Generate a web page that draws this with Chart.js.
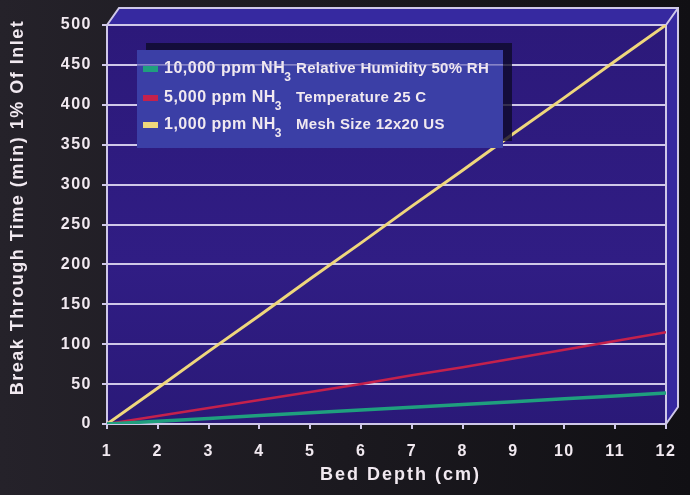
<!DOCTYPE html>
<html>
<head>
<meta charset="utf-8">
<script src="https://cdn.jsdelivr.net/npm/chart.js@4.4.0/dist/chart.umd.min.js"></script>
<style>
  html, body { margin: 0; padding: 0; background: #151318; }
  #wrap { width: 690px; height: 495px; }
</style>
</head>
<body>
<div id="wrap"><canvas id="myChart" width="690" height="495"></canvas></div>
<script>
// chart values
var bedDepth = [1, 2, 3, 4, 5, 6, 7, 8, 9, 10, 11, 12];
var nh3At10000 = [0, 3.5, 7, 10.5, 14, 17.5, 21, 24.5, 28, 31.5, 35, 39];
var nh3At5000 = [0, 10, 20, 30, 40, 50, 61, 71, 82, 93, 104, 115];
var nh3At1000 = [0, 45, 91, 136, 182, 227, 273, 318, 364, 409, 455, 500];
var seriesNames = ['10,000 ppm NH\u2083', '5,000 ppm NH\u2083', '1,000 ppm NH\u2083'];
var conditions = ['Relative Humidity 50% RH', 'Temperature 25 C', 'Mesh Size 12x20 US'];
var seriesColors = ['#1f9f7e', '#c4214c', '#efd77c'];
var xTitle = 'Bed Depth (cm)';
var yTitle = 'Break Through Time (min) 1% Of Inlet';
var yMin = 0, yMax = 500, yStep = 50;
var xMin = 1, xMax = 12;

var textColor = '#f1e9f0';
var lineColor = '#cfc8e8';
var fontFamily = '"Liberation Sans", Arial, sans-serif';

function toPoints(values) {
  return values.map(function (v, i) { return { x: bedDepth[i], y: v }; });
}

// 3D box, background and letter spacing
var boxPlugin = {
  id: 'box3d',
  beforeLayout: function (chart) { chart.ctx.letterSpacing = '1.5px'; },
  beforeDraw: function (chart) {
    var ctx = chart.ctx, ca = chart.chartArea;
    var dx = 12, dy = -17;
    ctx.save();
    var g = ctx.createLinearGradient(0, 0, chart.width, 0);
    g.addColorStop(0, '#25222a');
    g.addColorStop(1, '#111014');
    ctx.fillStyle = g;
    ctx.fillRect(0, 0, chart.width, chart.height);

    // top and right faces
    ctx.fillStyle = '#3629a0';
    ctx.beginPath();
    ctx.moveTo(ca.left, ca.top);
    ctx.lineTo(ca.left + dx, ca.top + dy);
    ctx.lineTo(ca.right + dx, ca.top + dy);
    ctx.lineTo(ca.right + dx, ca.bottom + dy);
    ctx.lineTo(ca.right, ca.bottom);
    ctx.lineTo(ca.right, ca.top);
    ctx.closePath();
    ctx.fill();

    // front face
    var fg = ctx.createLinearGradient(0, ca.top, 0, ca.bottom);
    fg.addColorStop(0, '#2c197a');
    fg.addColorStop(0.6, '#301d84');
    fg.addColorStop(1, '#2a1978');
    ctx.fillStyle = fg;
    ctx.fillRect(ca.left, ca.top, ca.right - ca.left, ca.bottom - ca.top);

    // edges
    ctx.strokeStyle = lineColor;
    ctx.lineWidth = 2;
    ctx.beginPath();
    ctx.moveTo(ca.left, ca.top);
    ctx.lineTo(ca.left + dx, ca.top + dy);
    ctx.lineTo(ca.right + dx, ca.top + dy);
    ctx.lineTo(ca.right + dx, ca.bottom + dy);
    ctx.lineTo(ca.right, ca.bottom);
    ctx.moveTo(ca.right, ca.top);
    ctx.lineTo(ca.right + dx, ca.top + dy);
    ctx.moveTo(ca.right, ca.top);
    ctx.lineTo(ca.right, ca.bottom);
    ctx.stroke();
    ctx.restore();
    ctx.letterSpacing = '1.5px';
  }
};

// legend box with two text columns, plus axis titles
var legendPlugin = {
  id: 'boxLegend',
  afterDraw: function (chart) {
    var ctx = chart.ctx;
    var bx = 137, by = 50, bw = 366, bh = 98;
    ctx.save();
    ctx.fillStyle = 'rgba(14, 10, 42, 0.8)';
    ctx.fillRect(bx + 9, by - 7, bw, bh);
    ctx.fillStyle = '#3b3fa6';
    ctx.fillRect(bx, by, bw, bh);

    var rowY = [69, 98, 125];
    ctx.textBaseline = 'middle';
    ctx.textAlign = 'left';
    seriesNames.forEach(function (name, i) {
      var y = rowY[i];
      ctx.fillStyle = seriesColors[i];
      ctx.fillRect(143, y - 3, 15, 6);

      ctx.fillStyle = textColor;
      ctx.letterSpacing = '0.5px';
      ctx.font = 'bold 16px ' + fontFamily;
      var base = name.replace('\u2083', '');
      ctx.fillText(base, 164, y);
      var w = ctx.measureText(base).width;
      if (name.indexOf('\u2083') >= 0) {
        ctx.font = 'bold 12px ' + fontFamily;
        ctx.fillText('3', 163 + w, y + 9);
      }
      ctx.letterSpacing = '0.3px';
      ctx.font = 'bold 15px ' + fontFamily;
      ctx.fillText(conditions[i], 296, y);
    });

    // the 450 grid line runs over the legend in the picture
    var ys = chart.scales.y;
    var gy = ys.getPixelForValue(450);
    ctx.strokeStyle = 'rgba(215, 205, 235, 0.8)';
    ctx.lineWidth = 1;
    ctx.beginPath();
    ctx.moveTo(bx, gy);
    ctx.lineTo(bx + bw, gy);
    ctx.stroke();

    // axis titles
    var ca = chart.chartArea;
    ctx.fillStyle = textColor;
    ctx.textAlign = 'center';
    ctx.letterSpacing = '2px';
    ctx.font = 'bold 18px ' + fontFamily;
    ctx.fillText(xTitle, (ca.left + ca.right) / 2 + 14, 475);
    ctx.translate(18, (ca.top + ca.bottom) / 2 - 17);
    ctx.rotate(-Math.PI / 2);
    ctx.letterSpacing = '1.5px';
    ctx.fillText(yTitle, 0, 0);
    ctx.restore();
  }
};

var ctx = document.getElementById('myChart').getContext('2d');

var myChart = new Chart(ctx, {
  type: 'line',
  data: {
    datasets: [
      { label: seriesNames[0], data: toPoints(nh3At10000), borderColor: seriesColors[0], borderWidth: 3.5 },
      { label: seriesNames[1], data: toPoints(nh3At5000), borderColor: seriesColors[1], borderWidth: 2.5 },
      { label: seriesNames[2], data: toPoints(nh3At1000), borderColor: seriesColors[2], borderWidth: 3 }
    ]
  },
  options: {
    responsive: false,
    animation: false,
    layout: { padding: { top: 25, right: 24, left: 0, bottom: 0 } },
    elements: { point: { radius: 0 }, line: { tension: 0 } },
    plugins: {
      legend: { display: false },
      tooltip: { enabled: false }
    },
    scales: {
      x: {
        type: 'linear',
        min: xMin,
        max: xMax,
        afterFit: function (scale) { scale.height = 71; },
        ticks: {
          stepSize: 1,
          color: textColor,
          padding: 13,
          maxRotation: 0,
          font: { family: fontFamily, size: 16, weight: 'bold' }
        },
        grid: { drawOnChartArea: false, drawTicks: true, tickLength: 5, color: lineColor, lineWidth: 2 },
        border: { color: lineColor, width: 2 }
      },
      y: {
        min: yMin,
        max: yMax,
        afterFit: function (scale) { scale.width = 107; },
        ticks: {
          stepSize: yStep,
          color: textColor,
          padding: 10,
          font: { family: fontFamily, size: 16, weight: 'bold' }
        },
        grid: { color: lineColor, lineWidth: 2, tickLength: 5 },
        border: { color: lineColor, width: 2 }
      }
    }
  },
  plugins: [boxPlugin, legendPlugin]
});
</script>
</body>
</html>
